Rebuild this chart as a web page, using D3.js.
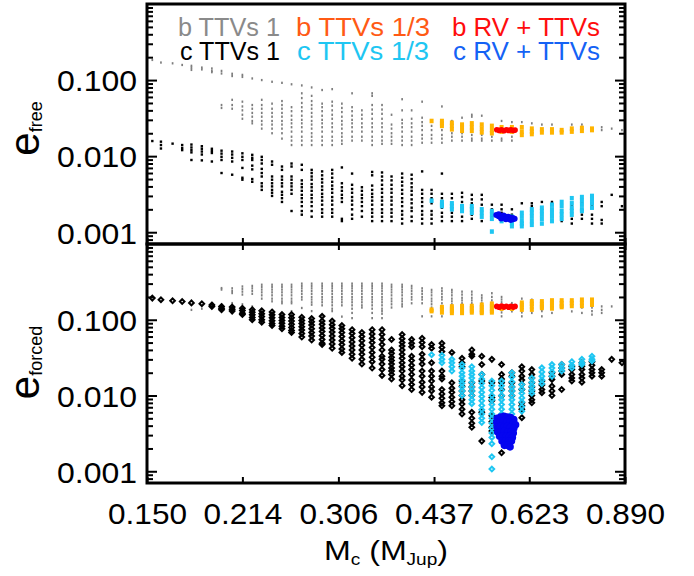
<!DOCTYPE html>
<html><head><meta charset="utf-8">
<script src="https://cdn.jsdelivr.net/npm/d3@7"></script>
<style>
body{margin:0;background:#fff}
svg{display:block}
text{font-family:"Liberation Sans",Arial,Helvetica,sans-serif}
</style>
</head><body>
<svg id="c" width="694" height="576"></svg>
<script>
// ---------- data ----------
const mass = [0.153,0.158,0.165,0.171,0.177,0.184,0.191,0.198,0.206,0.214,0.222,0.230,0.239,0.248,0.257,0.267,
  0.277,0.288,0.299,0.310,0.322,0.334,0.347,0.360,0.373,0.388,0.402,0.418,0.433,0.450,0.467,0.485,
  0.503,0.522,0.542,0.562,0.584,0.606,0.629,0.653,0.678,0.703,0.730,0.758,0.787,0.816,0.847,0.880];
const xTicks = [0.150,0.214,0.306,0.437,0.623,0.890];
const xTickLabels = ["0.150","0.214","0.306","0.437","0.623","0.890"];
const yTicks = [0.001,0.01,0.1];
const yTickLabels = ["0.001","0.010","0.100"];
const yMinor = [0.0008,0.0009,0.002,0.003,0.004,0.005,0.006,0.007,0.008,0.009,0.02,0.03,0.04,0.05,0.06,0.07,0.08,0.09,0.2,0.3,0.4,0.5,0.6,0.7,0.8,0.9];
const legendRow1 = ["b TTVs 1","b TTVs 1/3","b RV + TTVs"];
const legendRow2 = ["c TTVs 1","c TTVs 1/3","c RV + TTVs"];

// rows: [mass index, e values...]
// upper panel: e_free
const bFreeTTV1 = [
[0,0.184],[1,0.170],[2,0.166],[3,0.158],[4,0.154,0.145,0.136],[5,0.146,0.138],[6,0.142,0.132,0.127],
[7,0.132,0.122,0.047,0.043],[8,0.121,0.113,0.055,0.047,0.042],[9,0.117,0.110,0.052,0.045,0.040,0.035,0.031],
[10,0.105,0.047,0.042,0.037,0.033,0.029,0.027],[11,0.100,0.055,0.047,0.042,0.037,0.033,0.029,0.026,0.023],
[12,0.095,0.049,0.042,0.037,0.033,0.029,0.026,0.023,0.020],[13,0.092,0.053,0.047,0.042,0.037,0.033,0.029,0.026,0.023,0.020,0.017],
[14,0.088,0.044,0.039,0.034,0.030,0.027,0.024,0.021,0.018,0.016,0.014],
[15,0.085,0.067,0.058,0.050,0.044,0.039,0.034,0.030,0.027,0.024,0.021,0.018,0.016,0.014],
[16,0.080,0.062,0.053,0.047,0.042,0.037,0.033,0.029,0.026,0.023,0.020,0.018,0.016,0.014],
[17,0.074,0.049,0.044,0.039,0.034,0.030,0.027,0.024,0.021,0.018,0.016,0.014],
[18,0.076,0.052,0.046,0.040,0.035,0.031,0.027,0.024,0.021,0.018,0.016,0.014],
[19,0.049,0.043,0.038,0.033,0.029,0.026,0.023,0.020,0.018,0.016,0.0145],
[20,0.067,0.044,0.039,0.034,0.030,0.027,0.024,0.021,0.018,0.016],
[21,0.040,0.035,0.031,0.027,0.024,0.021,0.018,0.016],
[22,0.067,0.062,0.047,0.041,0.036,0.031,0.027,0.024,0.021,0.018,0.016,0.014],
[23,0.047,0.041,0.036,0.031,0.027,0.024,0.021,0.018,0.016,0.0145],
[24,0.035,0.026,0.023,0.020,0.018,0.016,0.0145],[25,0.056,0.040,0.030,0.027,0.024,0.021,0.018,0.016,0.014],
[26,0.040,0.031,0.027,0.024,0.021,0.018,0.016,0.014],[27,0.052,0.032,0.028,0.025,0.022,0.019,0.017,0.015],
[28,0.025,0.022,0.019,0.017,0.015],[29,0.045,0.022,0.019,0.017,0.015],[30,0.029,0.020,0.018,0.016],
[31,0.032,0.020,0.018,0.016],[32,0.035,0.033,0.019,0.017,0.016],[33,0.034,0.019,0.017,0.016],[34,0.018,0.016],
[35,0.029,0.017,0.016],[36,0.028,0.018,0.016],[37,0.028],[38,0.027],[39,0.026],[40,0.026],[42,0.026],[43,0.026],
[45,0.024,0.022],[46,0.023],[47,0.022]
];
const cFreeTTV1 = [
[0,0.0158],[1,0.0155,0.0140,0.0126],[2,0.0146],[3,0.0140,0.0128,0.0120],[4,0.0142,0.0130,0.0120,0.0112,0.0089],
[5,0.0135,0.0125,0.0115,0.0105,0.0088],[6,0.0125,0.0117,0.0110,0.0085],[7,0.0118,0.0108,0.0098,0.0089,0.0060],
[8,0.0115,0.0105,0.0095,0.0085,0.0057],[9,0.0109,0.0098,0.0089,0.0070,0.0052,0.0049],
[10,0.0104,0.0095,0.0089,0.0075,0.0067,0.0050,0.0046],[11,0.0098,0.0089,0.0080,0.0068,0.0060,0.0054,0.0044,0.0040,0.0036],
[12,0.0085,0.0077,0.0054,0.0049,0.0044,0.0040,0.0036,0.0033,0.0030],
[13,0.0073,0.0066,0.0054,0.0049,0.0044,0.0040,0.0034,0.0031,0.0028,0.0025],
[14,0.0080,0.0073,0.0054,0.0049,0.0044,0.0040,0.0036,0.0032,0.0019],
[15,0.0077,0.0066,0.0048,0.0043,0.0039,0.0035,0.0031,0.0028,0.0025,0.0022,0.0019,0.0017],
[16,0.0066,0.0060,0.0054,0.0049,0.0043,0.0039,0.0035,0.0031,0.0028,0.0025,0.0022,0.0019,0.0016],
[17,0.0063,0.0056,0.0050,0.0045,0.0040,0.0036,0.0032,0.0029,0.0026,0.0023,0.0020,0.0018,0.0016],
[18,0.0066,0.0059,0.0052,0.0046,0.0041,0.0037,0.0033,0.0029,0.0026,0.0023,0.0020,0.0018,0.0016],
[19,0.0071,0.0044,0.0039,0.0035,0.0031,0.0028,0.0025,0.0015,0.0014],
[20,0.0059,0.0042,0.0037,0.0033,0.0029,0.0026,0.0023,0.0020,0.0017,0.0015],
[21,0.0039,0.0035,0.0031,0.0028,0.0025,0.0022,0.0019,0.0016],
[22,0.0062,0.0056,0.0041,0.0036,0.0032,0.0029,0.0026,0.0023,0.0020,0.0018,0.0016,0.0014],
[23,0.0061,0.0054,0.0048,0.0042,0.0037,0.0033,0.0029,0.0026,0.0023,0.0020,0.0018,0.0016,0.0014],
[24,0.0054,0.0048,0.0042,0.0037,0.0033,0.0029,0.0026,0.0023,0.0020,0.0018,0.0016,0.0014],
[25,0.0059,0.0052,0.0046,0.0041,0.0036,0.0032,0.0028,0.0025,0.0022,0.0019,0.0017,0.0015,0.0013],
[26,0.0057,0.0050,0.0044,0.0039,0.0035,0.0031,0.0027,0.0024,0.0021,0.0019,0.0016,0.0014],
[27,0.0063,0.0036,0.0032,0.0028,0.0025,0.0022,0.0019,0.0017,0.0015,0.0013],
[28,0.0036,0.0032,0.0028,0.0024,0.0019,0.0017,0.0015,0.0013],
[29,0.0059,0.0032,0.0028,0.0025,0.0021,0.0018,0.0016,0.0014],
[30,0.0032,0.0028,0.0024,0.0021,0.0018,0.0016,0.0014],[31,0.0033,0.0029,0.0025,0.0022,0.0019,0.0016,0.0014],
[32,0.0031,0.0027,0.0024,0.0020,0.0017,0.0015],[33,0.0031,0.0027,0.0023,0.0020,0.0017,0.0014],
[34,0.0023,0.0020,0.0018,0.0016],[35,0.0023,0.0020,0.0018],[36,0.0020,0.0017],[37,0.0024,0.0018,0.0016,0.0013],
[38,0.0024,0.0022,0.0016,0.0014],[39,0.0025,0.0017],[40,0.0025,0.0016],[41,0.0024,0.0014],
[42,0.0024,0.0022,0.0017,0.0015,0.0013],[43,0.0024,0.0017,0.0015],[44,0.0024,0.0022,0.0017,0.0015,0.0013],
[45,0.0025,0.0022,0.00145,0.0013],[46,0.0031],[47,0.0022]
];
const bFreeTTV13 = [
[28,0.029],[29,0.029,0.027,0.025],[30,0.0275,0.025,0.0225],[31,0.026,0.024,0.0215],[32,0.027,0.024,0.0215],
[33,0.026,0.023,0.0205],[34,0.025,0.022,0.020],[35,0.024,0.021],[36,0.024,0.021],[37,0.024,0.021,0.019],
[38,0.023,0.021,0.0195],[39,0.0225,0.0205],[40,0.0225,0.0205],[41,0.022,0.0205],[42,0.023,0.021],
[43,0.0235,0.0215],[44,0.023,0.022]
];
const cFreeTTV13 = [
[28,0.0026],[29,0.0025,0.0023,0.0022],[30,0.0024,0.0022,0.0020],[31,0.0022,0.0020,0.0019],[32,0.0022,0.0020,0.0018],
[33,0.0020,0.0018,0.0016],[34,0.0019,0.0017,0.0015,0.00102],[35,0.0016,0.0014],[36,0.0016,0.0014,0.0013,0.0012],
[37,0.0018,0.0016,0.0014,0.0013,0.0012],[38,0.0020,0.0018,0.0016,0.0014,0.00125],[39,0.0021,0.0019,0.0017,0.0015,0.0013],
[40,0.0023,0.0020,0.0018,0.0016,0.0014],[41,0.0025,0.0022,0.0019,0.0017,0.0015],[42,0.0028,0.0024,0.0021,0.0019,0.0017],
[43,0.0029,0.0026,0.0023,0.0020,0.0019],[44,0.0030,0.0027,0.0024,0.0021]
];
// [mass, e] pairs
const bFreeRV = [[0.552,0.0222],[0.557,0.0218],[0.562,0.0222],[0.567,0.0216],[0.572,0.0222],[0.577,0.0218],[0.582,0.0222],[0.587,0.0217],[0.591,0.0220]];
const cFreeRV = [[0.551,0.00168],[0.556,0.00162],[0.561,0.00165],[0.566,0.00157],[0.571,0.00160],[0.576,0.00152],[0.581,0.00155],[0.586,0.00148],[0.590,0.00150],
  [0.556,0.00172],[0.566,0.00166],[0.576,0.00160],[0.586,0.00154],[0.561,0.00152],[0.571,0.00148],[0.581,0.00145]];

// lower panel: e_forced
const bForcedTTV1 = [
[4,0.135],[5,0.140],[6,0.148],[7,0.262,0.250],[8,0.26,0.24,0.225,0.166],[9,0.275,0.255,0.235,0.215,0.160],
[10,0.28,0.26,0.24,0.22,0.150],[11,0.29,0.27,0.25,0.23,0.21,0.19],[12,0.29,0.27,0.25,0.23,0.21,0.19,0.175],
[13,0.29,0.27,0.25,0.23,0.21,0.19,0.175,0.165],[14,0.29,0.27,0.25,0.23,0.21,0.19,0.175,0.165,0.13],
[15,0.30,0.28,0.26,0.24,0.22,0.20,0.185,0.143],[16,0.30,0.28,0.26,0.24,0.22,0.20,0.185,0.17,0.158,0.13],
[17,0.30,0.28,0.26,0.24,0.22,0.20,0.185,0.17,0.155,0.11],[18,0.30,0.28,0.26,0.24,0.22,0.20,0.185,0.17,0.155,0.14,0.13],
[19,0.30,0.28,0.26,0.24,0.22,0.20,0.185,0.17,0.155,0.11],[20,0.30,0.28,0.26,0.24,0.22,0.20,0.185,0.17,0.155,0.14,0.123,0.105],
[21,0.30,0.28,0.26,0.24,0.22,0.20,0.185,0.17,0.155,0.145],[22,0.30,0.28,0.26,0.24,0.22,0.20,0.185,0.17,0.155,0.14,0.123,0.105],
[23,0.30,0.28,0.26,0.24,0.22,0.20,0.185,0.17,0.155,0.14,0.13,0.12,0.105],
[24,0.29,0.27,0.25,0.23,0.21,0.19,0.175,0.16,0.145],[25,0.29,0.27,0.25,0.23,0.21,0.19,0.175,0.16,0.15],
[26,0.28,0.26,0.24,0.22,0.20,0.185,0.165],[27,0.26,0.24,0.22,0.20,0.185,0.165,0.111],
[28,0.248,0.23,0.21,0.19,0.175,0.16,0.145,0.13,0.111],[29,0.26,0.24,0.22,0.20,0.185,0.165,0.15,0.111],
[30,0.248,0.23,0.21,0.19,0.175,0.16,0.145,0.13],[31,0.235,0.215,0.195,0.18,0.165,0.15,0.13],
[32,0.235,0.215,0.195,0.18,0.165,0.15,0.135,0.123],[33,0.21,0.195,0.18,0.165,0.15,0.135,0.123],
[34,0.224,0.20,0.18,0.166],[35,0.20,0.185,0.17,0.155,0.14,0.125,0.111],[36,0.166,0.15,0.129],
[37,0.19,0.17,0.155,0.14,0.125,0.111],[38,0.184,0.165,0.15,0.135,0.123],[39,0.175,0.16,0.145,0.13,0.111],
[40,0.166,0.15,0.123],[41,0.166],[42,0.166,0.15,0.129],[43,0.175,0.16,0.145,0.123],[44,0.175,0.16,0.145,0.13,0.117],
[45,0.15,0.135,0.123],[46,0.15]
];
const cForcedTTV1 = [
[0,0.193],[1,0.184],[2,0.178],[3,0.174],[4,0.167],[5,0.163],[6,0.157,0.150],[7,0.150,0.142,0.136],
[8,0.147,0.138,0.130],[9,0.142,0.132,0.122,0.117],[10,0.136,0.126,0.116,0.107,0.100],
[11,0.131,0.120,0.110,0.100,0.093],[12,0.127,0.116,0.106,0.097,0.089,0.084],[13,0.117,0.107,0.098,0.090,0.082,0.076],
[14,0.117,0.106,0.096,0.087,0.079,0.072,0.068],[15,0.108,0.098,0.089,0.081,0.073,0.066,0.059],
[16,0.104,0.094,0.085,0.076,0.068,0.061,0.054],[17,0.111,0.096,0.087,0.078,0.070,0.062,0.055,0.049,0.047],
[18,0.096,0.086,0.077,0.069,0.061,0.054,0.048,0.042],[19,0.084,0.076,0.068,0.060,0.053,0.047,0.041,0.037],
[20,0.074,0.066,0.058,0.051,0.045,0.040,0.035,0.031],[21,0.068,0.060,0.053,0.046,0.040,0.035,0.030,0.026],
[22,0.074,0.065,0.057,0.050,0.043,0.037,0.032,0.028,0.023],[23,0.074,0.064,0.055,0.047,0.040,0.033,0.030,0.026,0.022,0.0184],
[24,0.055,0.040,0.036,0.032,0.029,0.026,0.023,0.021,0.019,0.0165],
[25,0.064,0.056,0.050,0.045,0.040,0.035,0.031,0.027,0.024,0.021,0.018,0.016,0.0135],
[26,0.055,0.049,0.044,0.033,0.029,0.025,0.022,0.019,0.016,0.014,0.012],
[27,0.057,0.050,0.044,0.035,0.030,0.026,0.021,0.018,0.015,0.013,0.011],
[28,0.047,0.042,0.027,0.021,0.018,0.0155,0.013,0.0115,0.0095],
[29,0.049,0.043,0.038,0.021,0.018,0.0165,0.012,0.0105,0.0092,0.0080,0.0073],
[30,0.037,0.0147,0.0125,0.011,0.0095,0.0083,0.0073],
[31,0.031,0.027,0.024,0.0155,0.0133,0.0115,0.010,0.0088,0.0077,0.0066,0.0057],
[32,0.040,0.035,0.033,0.0147,0.013,0.0115,0.010,0.0060,0.0050,0.0043,0.0038],
[33,0.033,0.0256,0.019,0.0155,0.0060,0.0025],[34,0.030,0.0147,0.0094,0.0085,0.0054,0.0045,0.0038,0.0034],
[35,0.0256,0.019,0.0165,0.0147,0.012,0.0099,0.00175],[36,0.020,0.018,0.0147,0.013,0.0115,0.0099],
[37,0.024,0.021,0.018,0.016,0.014,0.012,0.0080,0.0073,0.0066,0.0051],
[38,0.022,0.019,0.017,0.0147,0.013,0.0115,0.010,0.0088,0.008],[39,0.0155,0.0138,0.012,0.0109],
[40,0.020,0.018,0.0163,0.0133,0.0115,0.010],[41,0.0256,0.023,0.021,0.019,0.012],
[42,0.0244,0.022,0.019,0.017,0.0155],[43,0.027,0.0244,0.022,0.019,0.017,0.015],
[44,0.028,0.025,0.022,0.020,0.018],[45,0.022,0.020,0.018],[46,0.030],[47,0.027]
];
const bForcedTTV13 = [
[28,0.136,0.130],[29,0.147,0.138,0.125],[30,0.150,0.140,0.131,0.123],[31,0.152,0.142,0.132,0.123],
[32,0.152,0.142,0.132,0.125],[33,0.158,0.147,0.137,0.128,0.123],[34,0.163,0.152,0.141,0.131,0.125],
[35,0.150,0.140],[36,0.150,0.140],[37,0.168,0.157,0.146,0.136],[38,0.175,0.163,0.150,0.136],
[39,0.175,0.162,0.150,0.143],[40,0.180,0.166,0.153,0.141],[41,0.180,0.166,0.153,0.147],
[42,0.180,0.166,0.152],[43,0.184,0.168,0.152],[44,0.184,0.170,0.158]
];
const cForcedTTV13 = [
[28,0.0345],[29,0.034,0.030,0.027],[30,0.030,0.027,0.024,0.021],
[31,0.0256,0.023,0.020,0.018,0.016,0.0145,0.013,0.0115,0.010],
[32,0.024,0.021,0.019,0.017,0.015,0.013,0.0115,0.010,0.0088,0.0078],
[33,0.019,0.0165,0.0145,0.0127,0.011,0.0097,0.0085,0.0074,0.0065,0.0057,0.005,0.0044],
[34,0.0155,0.0135,0.0117,0.010,0.0088,0.0076,0.0066,0.0057,0.005,0.0043,0.0037,0.0032,0.0028,0.0023,0.00155,0.00107],
[35,0.0155,0.0135,0.0117,0.010,0.0088,0.0076,0.0066,0.0057],
[36,0.020,0.0175,0.0152,0.013,0.0115,0.010,0.0088,0.0076,0.0066,0.0057,0.005],
[37,0.014,0.0122,0.0107,0.0093,0.0082,0.0071,0.0062],[38,0.017,0.015,0.0133,0.0118,0.0107],
[39,0.0232,0.0205,0.018,0.016,0.0143],[40,0.0256,0.023,0.0205,0.018],[41,0.0256,0.023,0.021],
[42,0.028,0.025,0.023],[43,0.030,0.027,0.0256],[44,0.033,0.030,0.0285]
];
const bForcedRV = [[0.552,0.150],[0.557,0.146],[0.562,0.152],[0.567,0.147],[0.572,0.151],[0.577,0.146],[0.582,0.151],[0.587,0.147],[0.591,0.150]];
const cForcedRV = [
[0.553,0.0050],[0.560,0.0052],[0.567,0.0053],[0.574,0.0052],[0.581,0.0051],[0.588,0.0048],
[0.552,0.0044],[0.559,0.0045],[0.566,0.0046],[0.573,0.0045],[0.580,0.0044],[0.587,0.0043],[0.592,0.0041],
[0.553,0.0038],[0.560,0.0039],[0.567,0.0038],[0.574,0.0039],[0.581,0.0038],[0.588,0.0037],
[0.554,0.0033],[0.561,0.0033],[0.568,0.0034],[0.575,0.0033],[0.582,0.0033],[0.587,0.0032],
[0.558,0.0029],[0.565,0.0029],[0.572,0.0029],[0.579,0.0029],[0.585,0.0028],
[0.563,0.0025],[0.570,0.0025],[0.577,0.0025],[0.583,0.0025],
[0.568,0.0022],[0.575,0.0022],[0.580,0.0021]
];

// ---------- drawing ----------
const svg = d3.select("#c");
const L = 147, R = 625;
const panels = [
  {top:4, bot:244},
  {top:244, bot:483}
];
const x = d3.scaleLog().domain([0.15,0.89]).range([L,R]);
const yS = panels.map(p => d3.scaleLog().domain([0.0007,1]).range([p.bot,p.top]));

const colors = {
  gray:"#7d7d7d", black:"#000000", orange:"#FFB400", lblue:"#1EC6F2", red:"#FF0000", blue:"#0505F0"
};
const legendColors1 = ["#8a8a8a","#FF5A14","#FF0D0D"];
const legendColors2 = ["#000000","#1EC6F2","#1462F5"];

const rowsToPts = rows => rows.flatMap(r => r.slice(1).map(v => [mass[r[0]], v]));

const defs = svg.append("defs");
panels.forEach((p,i) => {
  defs.append("clipPath").attr("id","clip"+i).append("rect")
    .attr("x",L).attr("y",p.top).attr("width",R-L).attr("height",p.bot-p.top);
});

function rects(g, pts, y, w, h, color){
  g.append("g").attr("fill",color).selectAll("rect").data(pts).join("rect")
    .attr("x",d=>x(d[0])-w/2).attr("y",d=>y(d[1])-h/2).attr("width",w).attr("height",h);
}
function circles(g, pts, y, r, color){
  g.append("g").attr("fill",color).selectAll("circle").data(pts).join("circle")
    .attr("cx",d=>x(d[0])).attr("cy",d=>y(d[1])).attr("r",r);
}
const diamondType = {draw(ctx,size){const r=Math.sqrt(size)/2;ctx.moveTo(0,-r);ctx.lineTo(r,0);ctx.lineTo(0,r);ctx.lineTo(-r,0);ctx.closePath();}};
function diamonds(g, pts, y, size, color){
  const sym = d3.symbol().type(diamondType).size(size);
  g.append("g").attr("fill","none").attr("stroke",color).attr("stroke-width",2)
    .selectAll("path").data(pts).join("path")
    .attr("transform",d=>`translate(${x(d[0])},${y(d[1])})`).attr("d",sym);
}

// upper panel marks
{
  const y = yS[0];
  const g = svg.append("g").attr("clip-path","url(#clip0)");
  rects(g, rowsToPts(bFreeTTV1), y, 1.7, 2.3, colors.gray);
  rects(g, rowsToPts(cFreeTTV1), y, 2.4, 2.4, colors.black);
  rects(g, rowsToPts(bFreeTTV13), y, 4, 4.5, colors.orange);
  rects(g, rowsToPts(cFreeTTV13), y, 4, 4.5, colors.lblue);
  circles(g, bFreeRV, y, 2.8, colors.red);
  circles(g, cFreeRV, y, 3, colors.blue);
}
// lower panel marks
{
  const y = yS[1];
  const g = svg.append("g").attr("clip-path","url(#clip1)");
  rects(g, rowsToPts(bForcedTTV1), y, 1.7, 2.3, colors.gray);
  diamonds(g, rowsToPts(cForcedTTV1), y, 22, colors.black);
  rects(g, rowsToPts(bForcedTTV13), y, 4, 4.5, colors.orange);
  diamonds(g, rowsToPts(cForcedTTV13), y, 22, colors.lblue);
  circles(g, bForcedRV, y, 2.8, colors.red);
  circles(g, cForcedRV, y, 3.8, colors.blue);
}

// axes
function styleAxis(sel){
  sel.select(".domain").remove();
  sel.selectAll(".tick line").attr("stroke","#000").attr("stroke-width",2);
}
panels.forEach((p,i) => {
  const y = yS[i];
  const la = svg.append("g").attr("transform",`translate(${L},0)`)
    .call(d3.axisLeft(y).tickValues(yTicks).tickFormat((d,k)=>yTickLabels[k]).tickSize(-10).tickPadding(10));
  styleAxis(la);
  la.selectAll(".tick text").attr("font-size",30).attr("fill","#000").attr("dy","0.36em")
    .attr("font-family",'"Liberation Sans",Arial,sans-serif')
    .attr("textLength",80).attr("lengthAdjust","spacingAndGlyphs");
  const lm = svg.append("g").attr("transform",`translate(${L},0)`)
    .call(d3.axisLeft(y).tickValues(yMinor).tickFormat("").tickSize(-6));
  styleAxis(lm);
  const ra = svg.append("g").attr("transform",`translate(${R},0)`)
    .call(d3.axisRight(y).tickValues(yTicks).tickFormat("").tickSize(-10));
  styleAxis(ra);
  const rm = svg.append("g").attr("transform",`translate(${R},0)`)
    .call(d3.axisRight(y).tickValues(yMinor).tickFormat("").tickSize(-6));
  styleAxis(rm);
  const ba = svg.append("g").attr("transform",`translate(0,${p.bot})`)
    .call(d3.axisBottom(x).tickValues(xTicks).tickFormat(i===1?((d,k)=>xTickLabels[k]):"").tickSize(-6).tickPadding(20));
  styleAxis(ba);
  if(i===1){
    ba.selectAll(".tick text").attr("font-size",30).attr("fill","#000")
      .attr("font-family",'"Liberation Sans",Arial,sans-serif')
      .attr("textLength",79).attr("lengthAdjust","spacingAndGlyphs");
    const ta = svg.append("g").attr("transform",`translate(0,${p.top})`)
      .call(d3.axisTop(x).tickValues(xTicks).tickFormat("").tickSize(-6));
    styleAxis(ta);
  }
  svg.append("rect").attr("x",L).attr("y",p.top).attr("width",R-L).attr("height",p.bot-p.top)
    .attr("fill","none").attr("stroke","#000").attr("stroke-width",3);
});

// y titles
function yTitle(cx, cy, sub){
  const t = svg.append("text").attr("transform",`translate(${cx},${cy}) rotate(-90)`)
    .attr("text-anchor","middle").attr("fill","#000");
  t.append("tspan").attr("font-size",42).text("e");
  t.append("tspan").attr("font-size",18).attr("dy",3).text(sub);
}
yTitle(39, 128.5, "free");
yTitle(39, 362.5, "forced");

// x title
{
  const t = svg.append("text").attr("x",324).attr("y",560).attr("fill","#000")
    .attr("textLength",124).attr("lengthAdjust","spacingAndGlyphs");
  t.append("tspan").attr("font-size",27).text("M");
  t.append("tspan").attr("font-size",16).attr("dy",5).text("c");
  t.append("tspan").attr("font-size",27).attr("dy",-5).text("\u00A0(M");
  t.append("tspan").attr("font-size",16).attr("dy",5).text("Jup");
  t.append("tspan").attr("font-size",27).attr("dy",-5).text(")");
}

// legend
const legX1 = [178,296,452], legW1 = [102,134,148];
const legX2 = [180,297,453], legW2 = [100,132,147];
legendRow1.forEach((s,k)=>{
  svg.append("text").attr("x",legX1[k]).attr("y",36).attr("font-size",25).attr("fill",legendColors1[k])
    .attr("textLength",legW1[k]).attr("lengthAdjust","spacingAndGlyphs").text(s);
});
legendRow2.forEach((s,k)=>{
  svg.append("text").attr("x",legX2[k]).attr("y",60).attr("font-size",25).attr("fill",legendColors2[k])
    .attr("textLength",legW2[k]).attr("lengthAdjust","spacingAndGlyphs").text(s);
});
</script>
</body></html>
